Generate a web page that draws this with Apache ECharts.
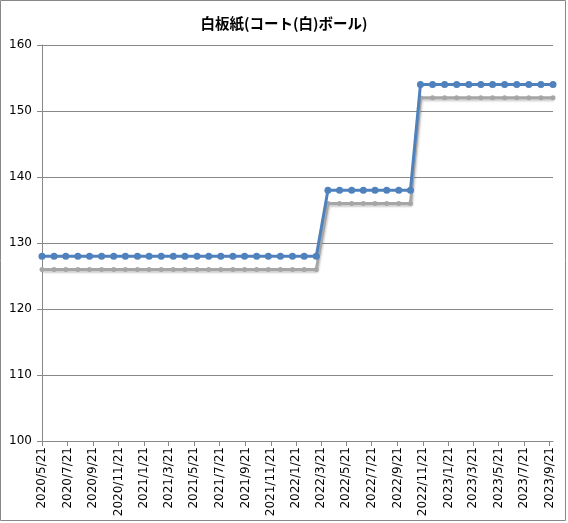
<!DOCTYPE html>
<html>
<head>
<meta charset="utf-8">
<script src="https://cdn.jsdelivr.net/npm/echarts@6/dist/echarts.min.js"></script>
<style>
  html, body { margin: 0; padding: 0; background: #fff; }
  #main { width: 568px; height: 523px; }
</style>
</head>
<body>
<div id="main"></div>
<script>
// データ
const dates = [
  '2020-05-21', '2020-06-19', '2020-07-17', '2020-08-15', '2020-09-12', '2020-10-11',
  '2020-11-09', '2020-12-07', '2021-01-05', '2021-02-02', '2021-03-03', '2021-04-01',
  '2021-04-29', '2021-05-28', '2021-06-25', '2021-07-24', '2021-08-22', '2021-09-19',
  '2021-10-18', '2021-11-15', '2021-12-14', '2022-01-12', '2022-02-09', '2022-03-10',
  '2022-04-07', '2022-05-05', '2022-06-03', '2022-07-01', '2022-07-29', '2022-08-26',
  '2022-09-24', '2022-10-22',
  '2022-11-15', '2022-12-14', '2023-01-12', '2023-02-10', '2023-03-11', '2023-04-09',
  '2023-05-07', '2023-06-05', '2023-07-04', '2023-08-02', '2023-08-31', '2023-09-29'
]
const blueValues = [
  128, 128, 128, 128, 128, 128, 128, 128, 128, 128, 128, 128,
  128, 128, 128, 128, 128, 128, 128, 128, 128, 128, 128, 128,
  138, 138, 138, 138, 138, 138, 138, 138,
  154, 154, 154, 154, 154, 154, 154, 154, 154, 154, 154, 154
]
const grayValues = [
  126, 126, 126, 126, 126, 126, 126, 126, 126, 126, 126, 126,
  126, 126, 126, 126, 126, 126, 126, 126, 126, 126, 126, 126,
  136, 136, 136, 136, 136, 136, 136, 136,
  152, 152, 152, 152, 152, 152, 152, 152, 152, 152, 152, 152
]
const tickLabels = [
  '2020/5/21', '2020/7/21', '2020/9/21', '2020/11/21',
  '2021/1/21', '2021/3/21', '2021/5/21', '2021/7/21', '2021/9/21', '2021/11/21',
  '2022/1/21', '2022/3/21', '2022/5/21', '2022/7/21', '2022/9/21', '2022/11/21',
  '2023/1/21', '2023/3/21', '2023/5/21', '2023/7/21', '2023/9/21'
]

// 日付 -> 経過日数
const DAY = 86400000
const t0 = Date.UTC(2020, 4, 21)
function toDay(s) {
  let p = s.split(/[-\/]/).map(Number)
  return Math.round((Date.UTC(p[0], p[1] - 1, p[2]) - t0) / DAY)
}
function fmt(v) {
  let d = new Date(t0 + Math.round(v) * DAY)
  return d.getUTCFullYear() + '/' + (d.getUTCMonth() + 1) + '/' + d.getUTCDate()
}

let tickValues = tickLabels.map(toDay)
let blueData = dates.map((d, i) => [toDay(d), blueValues[i]])
let grayData = dates.map((d, i) => [toDay(d), grayValues[i]])

var myChart = echarts.init(document.getElementById('main'))
var option = {
  animation: false,
  title: {
    text: '白板紙(コート(白)ボール)',
    left: 'center',
    top: 11,
    textStyle: {
      fontFamily: 'Noto Sans CJK JP',
      fontSize: 14.5,
      fontWeight: 'bold',
      color: '#000'
    }
  },
  graphic: [{
    type: 'rect',
    shape: { x: 0.5, y: 0.5, width: 565, height: 520 },
    style: { fill: 'none', stroke: '#888', lineWidth: 1 },
    silent: true
  }],
  grid: { left: 42, right: 15, top: 45, bottom: 82 },
  xAxis: {
    type: 'value',
    min: toDay(dates[0]),
    max: toDay(dates[dates.length - 1]),
    splitLine: { show: false },
    axisLine: { lineStyle: { color: '#888', width: 1 } },
    axisTick: { show: true, length: 5, lineStyle: { color: '#888' }, customValues: tickValues },
    axisLabel: {
      rotate: 90,
      margin: 6,
      color: '#000',
      fontFamily: 'DejaVu Sans',
      fontSize: 12,
      hideOverlap: false,
      customValues: tickValues,
      formatter: v => fmt(v)
    }
  },
  yAxis: {
    type: 'value',
    min: 100,
    max: 160,
    interval: 10,
    axisLine: { show: true, lineStyle: { color: '#888' } },
    axisTick: { show: true, length: 5, lineStyle: { color: '#888' } },
    axisLabel: { color: '#000', fontFamily: 'DejaVu Sans', fontSize: 12, margin: 10 },
    splitLine: { lineStyle: { color: '#888', width: 1 } }
  },
  series: [
    {
      name: '系列2',
      type: 'line',
      data: grayData,
      z: 2,
      symbol: 'circle',
      symbolSize: 5,
      itemStyle: { color: '#a6a6a6' },
      lineStyle: {
        color: '#a6a6a6', width: 3,
        shadowColor: 'rgba(0,0,0,0.2)', shadowBlur: 2, shadowOffsetX: 1, shadowOffsetY: 2
      }
    },
    {
      name: '系列1',
      type: 'line',
      data: blueData,
      z: 3,
      symbol: 'circle',
      symbolSize: 7,
      itemStyle: { color: '#4f81bd' },
      lineStyle: { color: '#4f81bd', width: 3 }
    }
  ]
}
myChart.setOption(option)
</script>
</body>
</html>
